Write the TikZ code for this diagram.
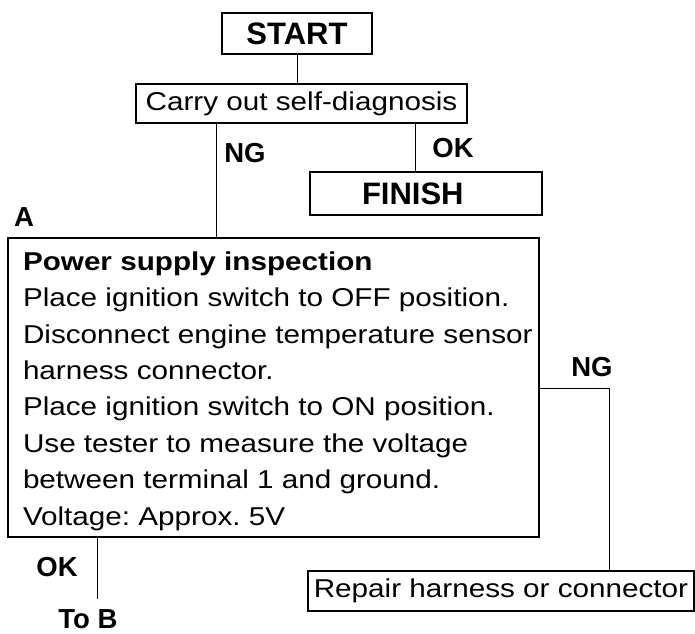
\documentclass[tikz,border=0pt]{standalone}
\usepackage{fontspec}
\setmainfont{Liberation Sans}
\newfontfamily\widefont{Liberation Sans}[FakeStretch=1.15]
\usepackage{tikz}
\usetikzlibrary{
    positioning,
    calc
}
\frenchspacing

\begin{document}
\begin{tikzpicture}[
        x=1pt, y=-1pt,
        box/.style={
            rectangle,
            draw,
            line width=1.3pt,
            inner sep=0pt
        },
        body/.style={
            font=\widefont\fontsize{25.8}{36.4}\selectfont
        },
        title/.style={
            font=\bfseries\fontsize{31}{32}\selectfont
        },
        tag/.style={
            font=\bfseries\fontsize{27.5}{28}\selectfont
        },
        line/.style={
            line width=1pt
        }
    ]

    \useasboundingbox (0,0) rectangle (695,633);

    \node[box, title, minimum width=150pt, minimum height=41pt] (start) at (297,33.5) {START};
    \node[box, body, minimum width=331pt, minimum height=39pt] (diag) at (301.5,103.5)
        {Carry out self-diagnosis};
    \node[box, title, text width=232pt, align=left, minimum height=43pt] (finish) at (426,193.5)
        {\hspace*{52pt}FINISH};

    \node[box, body] (inspect) at (273.5,387.5)
        {\parbox[c][299pt][t]{531pt}{\vspace*{13.5pt}\leftskip=15pt\hyphenpenalty=10000
         \textbf{Power supply inspection}\\
         Place ignition switch to OFF position.\\
         Disconnect engine temperature sensor\\
         harness connector.\\
         Place ignition switch to ON position.\\
         Use tester to measure the voltage\\
         between terminal 1 and ground.\\
         Voltage: Approx. 5V}};

    \node[box, body, minimum width=386pt, minimum height=40pt] (repair) at (501,591)
        {Repair harness or connector};

    % labels
    \node[tag] (labA) at (24,217) {A};
    \node[tag] (ngdiag) at (245,153) {NG};
    \node[tag] (okdiag) at (453,148) {OK};
    \node[tag] (ngins) at (592,367) {NG};
    \node[tag] (okins) at (57,567) {OK};
    \node[tag] (tob) at (88,619) {To B};

    \coordinate (okend) at (97,599);

    \draw[line] (start.south) -- (start.south |- diag.north);
    \draw[line] (diag.south -| 216,0) -- (inspect.north -| 216,0);
    \draw[line] (diag.south -| 415,0) -- (finish.north -| 415,0);
    \draw[line] (inspect.east |- 0,388) -| (repair.north -| 609,0);
    \draw[line] (inspect.south -| okend) -- (okend);

\end{tikzpicture}
\end{document}
